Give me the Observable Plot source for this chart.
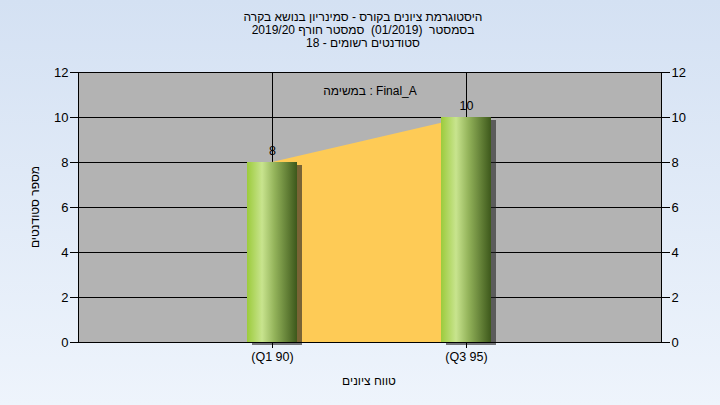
<!DOCTYPE html>
<html><head><meta charset="utf-8">
<script src="https://cdn.jsdelivr.net/npm/d3@7"></script>
<script src="https://cdn.jsdelivr.net/npm/@observablehq/plot@0.6"></script>
<style>
html,body{margin:0;padding:0}
body{width:720px;height:405px;position:relative;overflow:hidden;background:linear-gradient(to bottom,#d4e1f3,#eef4fc);font-family:"Liberation Sans",Arial,sans-serif;}
#chart{position:absolute;left:0;top:0}
.t{position:absolute;white-space:pre;font-size:12px;color:#000;line-height:13px}
#title{left:0;width:726px;top:11px;text-align:center;direction:rtl}
#ylab{left:35px;top:207px;transform:translate(-50%,-50%) rotate(-90deg);direction:rtl}
#xlab{left:369px;top:381px;transform:translate(-50%,-50%);direction:rtl}
</style></head>
<body>
<div id="chart"></div>
<div id="title" class="t"></div>
<div id="ylab" class="t"></div>
<div id="xlab" class="t"></div>
<script>
const categories = ["(Q1 90)", "(Q3 95)"];
const counts = [8, 10];
const yTicks = [0, 2, 4, 6, 8, 10, 12];
const titleLines = [
  "היסטוגרמת ציונים בקורס - סמינריון בנושא בקרה",
  "בסמסטר  (01/2019)  סמסטר חורף 2019/20",
  "סטודנטים רשומים - 18"
];
const annotation = "במשימה : Final_A";
const yLabel = "מספר סטודנטים";
const xLabel = "טווח ציונים";

const data = categories.map((c, i) => ({cat: c, count: counts[i]}));

const chart = Plot.plot({
  width: 720, height: 405,
  marginTop: 72, marginBottom: 63, marginLeft: 78, marginRight: 59,
  style: {background: "transparent", fontFamily: "Liberation Sans, Arial, sans-serif", fontSize: "12px", color: "#000"},
  x: {type: "band", domain: categories, paddingInner: 0.741, paddingOuter: 0.8705, align: 0.5, label: null},
  y: {domain: [0, 12], label: null},
  marks: [
    Plot.frame({fill: "#b3b3b3"}),
    Plot.gridY(yTicks, {stroke: "#000", strokeOpacity: 1}),
    Plot.gridX(categories, {stroke: "#000", strokeOpacity: 1}),
    Plot.areaY(data, {x: "cat", y: "count", fill: "#fecb56"}),
    Plot.barY(data, {x: "cat", y: "count", fill: "#202020", fillOpacity: 0.6, dx: 5, dy: 3, ariaLabel: "shadow"}),
    Plot.barY(data, {x: "cat", y: "count", fill: "url(#cyl)", ariaLabel: "bars"}),
    Plot.text(data, {x: "cat", y: "count", text: d => String(d.count), dy: -12, fontSize: 12.5, fill: "#000"}),
    Plot.text([annotation], {frameAnchor: "top", dy: 14, text: d => d, fontSize: 12, fill: "#000"}),
    Plot.frame({stroke: "#000"}),
    Plot.axisY(yTicks, {anchor: "left", tickSize: 8, tickPadding: 2, fontSize: 13}),
    Plot.axisY(yTicks, {anchor: "right", tickSize: 8, tickPadding: 2, fontSize: 13}),
    Plot.axisX({anchor: "bottom", tickSize: 6, tickPadding: 4, fontSize: 12.5})
  ]
});

const svg = d3.select(chart);
const defs = svg.insert("defs", ":first-child");
const grad = defs.append("linearGradient").attr("id", "cyl")
  .attr("x1", "0").attr("x2", "1").attr("y1", "0").attr("y2", "0");
[["0", "#9ccb3c"], ["0.3", "#c8e48e"], ["0.55", "#93b35a"], ["1", "#3d581b"]]
  .forEach(([o, c]) => grad.append("stop").attr("offset", o).attr("stop-color", c));
defs.append("filter").attr("id", "blur").attr("x", "-50%").attr("y", "-10%").attr("width", "200%").attr("height", "120%")
  .append("feGaussianBlur").attr("stdDeviation", 3);
svg.select('g[aria-label="shadow"]').attr("filter", "url(#blur)");

document.getElementById("chart").appendChild(chart);
document.getElementById("title").innerHTML = titleLines.map(s => "<div>" + s + "</div>").join("");
document.getElementById("ylab").textContent = yLabel;
document.getElementById("xlab").textContent = xLabel;
</script>
</body></html>
